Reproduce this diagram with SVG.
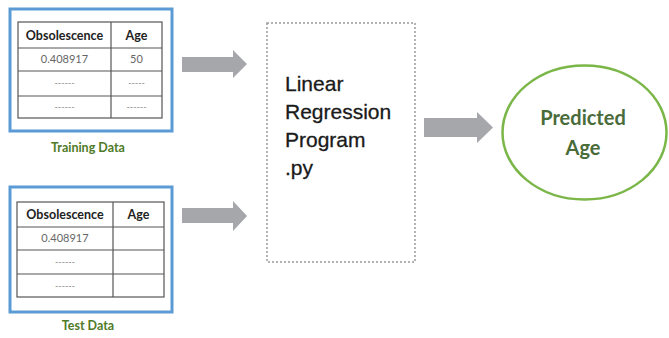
<svg xmlns="http://www.w3.org/2000/svg" width="669" height="338" viewBox="0 0 669 338">
  <style>
    .frame { fill: #ffffff; stroke: #5b9bd5; stroke-width: 3; }
    .grid { fill: none; stroke: #555555; stroke-width: 1.2; }
    .hdr { font-family: Lato, "Open Sans", sans-serif; font-weight: bold; font-size: 12.5px; fill: #222222; text-anchor: middle; }
    .val { font-family: Lato, "Open Sans", sans-serif; font-size: 11px; fill: #666666; text-anchor: middle; }
    .dash { font-family: Lato, sans-serif; font-size: 9px; fill: #888888; text-anchor: middle; }
    .cap { font-family: Lato, "Open Sans", sans-serif; font-weight: bold; font-size: 12.5px; fill: #4f7a28; text-anchor: middle; }
    .prog { font-family: "Liberation Sans", Arial, sans-serif; font-size: 21px; fill: #1a1a1a; stroke: #1a1a1a; stroke-width: 0.3; }
    .pred { font-family: Lato, "Open Sans", sans-serif; font-weight: bold; font-size: 20px; fill: #4a6b3a; text-anchor: middle; }
    .arrow { fill: #a6a7ab; }
  </style>

  <rect width="669" height="338" fill="#ffffff"/>

  <!-- training table -->
  <g id="training-data">
    <rect class="frame" x="10" y="9" width="162" height="122"/>
    <rect class="grid" x="18" y="22" width="144" height="96"/>
    <line class="grid" x1="111" y1="22" x2="111" y2="118"/>
    <line class="grid" x1="18" y1="48" x2="162" y2="48"/>
    <line class="grid" x1="18" y1="71" x2="162" y2="71"/>
    <line class="grid" x1="18" y1="96" x2="162" y2="96"/>
    <text class="hdr" x="64.5" y="40">Obsolescence</text>
    <text class="hdr" x="136.5" y="40">Age</text>
    <text class="val" x="64.5" y="63">0.408917</text>
    <text class="val" x="136.5" y="63">50</text>
    <text class="dash" x="64.5" y="86">------</text>
    <text class="dash" x="136.5" y="86">-----</text>
    <text class="dash" x="64.5" y="110">------</text>
    <text class="dash" x="136.5" y="110">------</text>
    <text class="cap" x="88" y="152">Training Data</text>
  </g>

  <!-- test table -->
  <g id="test-data">
    <rect class="frame" x="10" y="187" width="162" height="125"/>
    <rect class="grid" x="17" y="202" width="147" height="95"/>
    <line class="grid" x1="113" y1="202" x2="113" y2="297"/>
    <line class="grid" x1="17" y1="227" x2="164" y2="227"/>
    <line class="grid" x1="17" y1="250" x2="164" y2="250"/>
    <line class="grid" x1="17" y1="274" x2="164" y2="274"/>
    <text class="hdr" x="65" y="219">Obsolescence</text>
    <text class="hdr" x="138.5" y="219">Age</text>
    <text class="val" x="65" y="242">0.408917</text>
    <text class="dash" x="65" y="265">------</text>
    <text class="dash" x="65" y="289">------</text>
    <text class="cap" x="88" y="330">Test Data</text>
  </g>

  <!-- program box -->
  <g id="program">
    <rect x="267" y="23" width="148" height="239" fill="#ffffff" stroke="#9a9a9a" stroke-width="1.5" stroke-dasharray="2 2"/>
    <text class="prog" x="285" y="91">Linear</text>
    <text class="prog" x="285" y="119">Regression</text>
    <text class="prog" x="285" y="147">Program</text>
    <text class="prog" x="285" y="175">.py</text>
  </g>

  <!-- prediction -->
  <g id="predicted-age">
    <ellipse cx="584.5" cy="132.5" rx="82" ry="67" fill="#ffffff" stroke="#7ab648" stroke-width="2.5"/>
    <text class="pred" x="583" y="125">Predicted</text>
    <text class="pred" x="583" y="155">Age</text>
  </g>

  <!-- block arrows -->
  <g id="connectors">
    <path class="arrow" d="M182,57 H233 V50 L247,64 L233,78 V72 H182 Z"/>
    <path class="arrow" d="M182,208 H233 V201 L247,216 L233,231 V223 H182 Z"/>
    <path class="arrow" d="M424,118 H477 V112 L493,127.5 L477,143 V137 H424 Z"/>
  </g>
</svg>
